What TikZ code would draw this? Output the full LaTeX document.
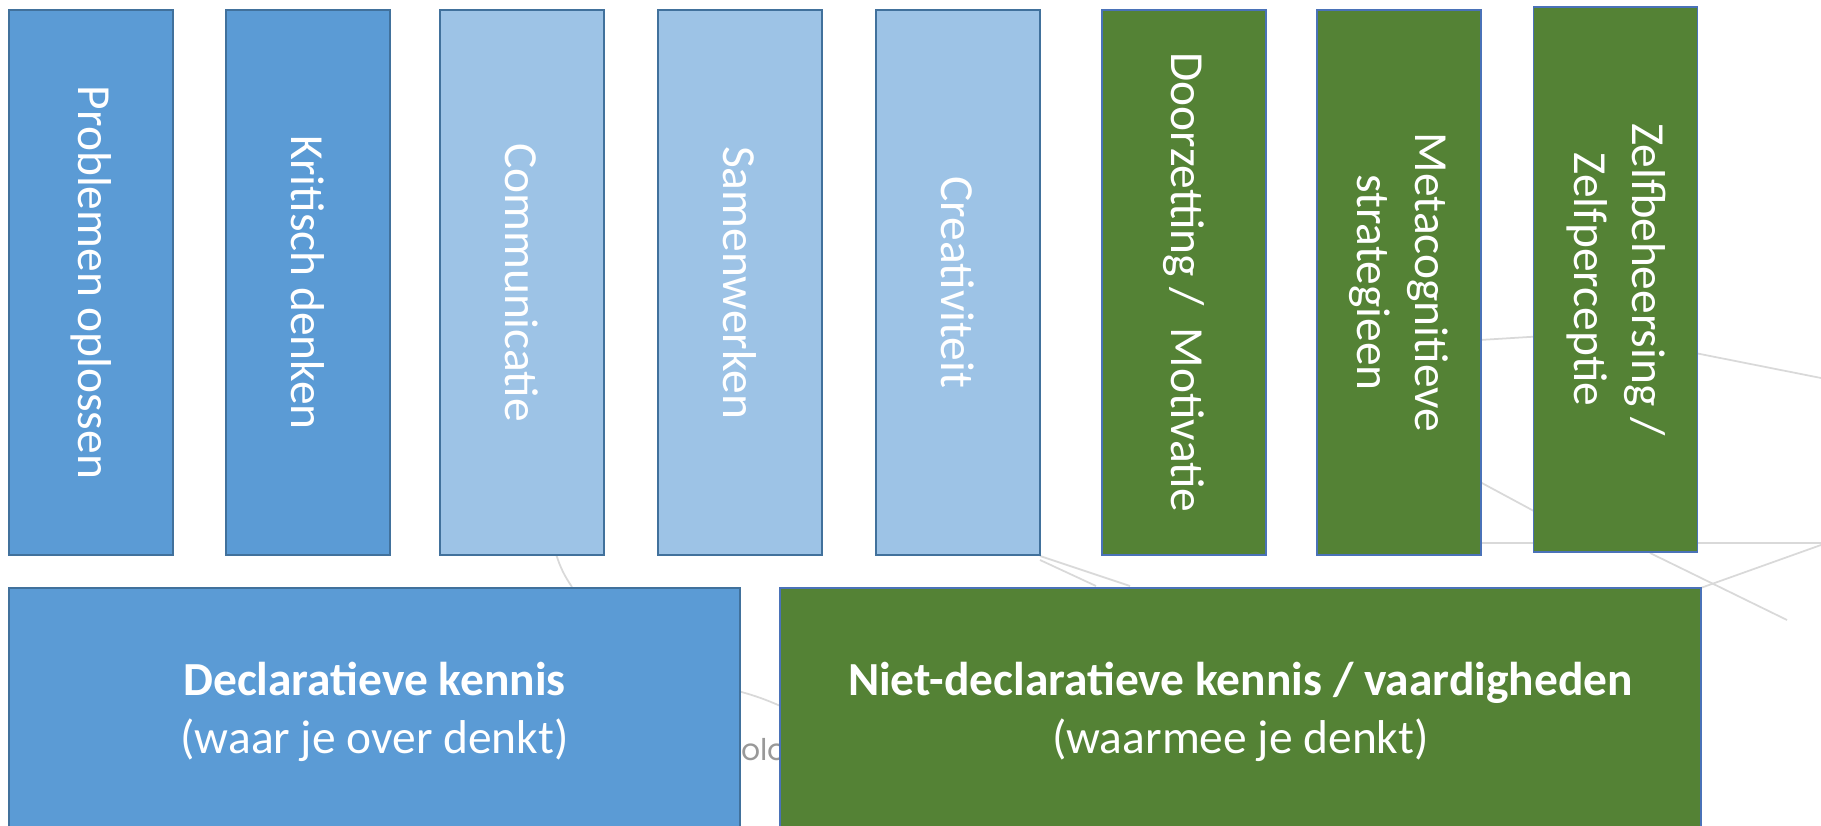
\documentclass[tikz,border=0pt]{standalone}
\usepackage{fontspec}
\setmainfont{Carlito}
\newfontfamily\achterfont{Poppins}
\usepackage{graphicx}
\usetikzlibrary{positioning}

\definecolor{blauw}{HTML}{5B9BD5}
\definecolor{lichtblauw}{HTML}{9DC3E6}
\definecolor{groen}{HTML}{548235}
\definecolor{rand}{HTML}{41719C}
\definecolor{randgroen}{HTML}{4A72B8}

\begin{document}
\begin{tikzpicture}[
    vak/.style={rectangle, draw=rand, line width=1.1pt, minimum width=3.28cm, minimum height=10.9cm, inner sep=0pt, text=white, font=\fontsize{27}{33}\selectfont},
    donker/.style={vak, fill=blauw},
    licht/.style={vak, fill=lichtblauw},
    vaardig/.style={vak, fill=groen, draw=randgroen},
    kennis/.style={rectangle, line width=1.1pt, minimum height=4.96cm, text=white, align=center, font=\fontsize{27}{33}\selectfont},
    spoor/.style={gray!30, line width=1pt}]

    \useasboundingbox (0,0) rectangle (36.42,-16.52);
    \clip (0,0) rectangle (36.42,-16.52);

    % faint traces of the background picture
    \draw[spoor] (11.12,-11.08) to[bend right=8] (11.44,-11.74);
    \draw[spoor] (14.6,-13.78) to[bend left=5] (15.7,-14.16);
    \draw[spoor] (20.8,-11.12) -- (22.6,-11.72);
    \draw[spoor] (20.8,-11.2) -- (21.92,-11.72);
    \draw[spoor] (29.6,-6.8) -- (30.9,-6.72);
    \draw[spoor] (29.6,-9.64) -- (30.9,-10.34);
    \draw[spoor] (29.6,-10.86) -- (30.9,-10.86);
    \draw[spoor] (33.9,-7.06) -- (36.42,-7.56);
    \draw[spoor] (33.9,-10.86) -- (36.42,-10.86);
    \draw[spoor] (33.9,-11.8) -- (36.42,-10.9);
    \draw[spoor] (33.0,-11.06) -- (35.74,-12.4);
    \node[anchor=west, inner sep=0pt, text=gray!80, font=\achterfont\fontsize{17}{20}\selectfont] (rest) at (14.82,-15.0) {olo};

    % bovenste rij
    \node[donker, anchor=north west] (prob) at (0.16,-0.18) {\rotatebox{-90}{Problemen oplossen}};
    \node[donker, right=1.02cm of prob] (krit) {\rotatebox{-90}{Kritisch denken}};
    \node[licht, right=0.96cm of krit] (comm) {\rotatebox{-90}{Communicatie}};
    \node[licht, right=1.04cm of comm] (samen) {\rotatebox{-90}{Samenwerken}};
    \node[licht, right=1.04cm of samen] (crea) {\rotatebox{-90}{Creativiteit}};
    \node[vaardig, right=1.2cm of crea] (door) {\rotatebox{-90}{Doorzetting /~ Motivatie}};
    \node[vaardig, right=0.98cm of door] (meta) {\rotatebox{-90}{\begin{tabular}{@{}c@{}}Metacognitieve\\strategieen\end{tabular}}};
    \node[vaardig, right=1.02cm of meta, yshift=0.06cm] (zelf) {\rotatebox{-90}{\begin{tabular}{@{}c@{}}Zelfbeheersing /\\Zelfperceptie\end{tabular}}};

    % onderste rij
    \node[kennis, draw=rand, fill=blauw, minimum width=14.62cm, anchor=north west] (dekl) at ([yshift=-0.62cm]prob.south west) {\textbf{Declaratieve kennis}\\(waar je over denkt)};
    \node[kennis, draw=randgroen, fill=groen, minimum width=18.42cm, right=0.76cm of dekl] (nietdekl) {\textbf{Niet-declaratieve kennis / vaardigheden}\\(waarmee je denkt)};
\end{tikzpicture}
\end{document}
